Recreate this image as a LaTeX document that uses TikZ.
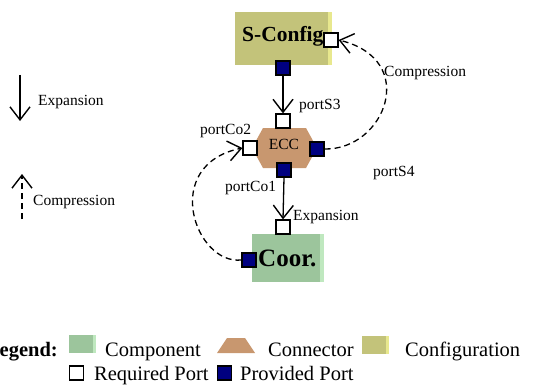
\documentclass[tikz,border=0pt]{standalone}
\usepackage{fontspec}
\setmainfont{Liberation Serif}
\usetikzlibrary{arrows.meta}
\definecolor{cfg}{HTML}{C3C37A}
\definecolor{cfglight}{HTML}{E8E88E}
\definecolor{comp}{HTML}{9CC59C}
\definecolor{complight}{HTML}{BFE8BF}
\definecolor{conn}{HTML}{C8976F}
\definecolor{prov}{HTML}{000080}
\begin{document}
\begin{tikzpicture}[x=1pt,y=-1pt,
  req/.style={draw=black, fill=white, line width=1.2pt, minimum size=14pt, inner sep=0pt},
  provp/.style={draw=black, fill=prov, line width=1.2pt, minimum size=14pt, inner sep=0pt},
  lbl/.style={inner sep=0pt, anchor=base west, font=\fontsize{15.5}{18}\selectfont},
  leg/.style={inner sep=0pt, anchor=base west, font=\fontsize{20.5}{24}\selectfont},
  expa/.style={-{Straight Barb[length=13pt,width=20pt,line width=1.4pt]}, line width=1.3pt},
  cmpa/.style={expa, dash pattern=on 6pt off 4pt},
  boxn/.style={inner sep=0pt, draw=none},
]
\useasboundingbox (0,0) rectangle (540,385);

% S-Config box
\node[boxn, fill=cfg, minimum width=97pt, minimum height=53pt] (cfg) at (283.5,38.5) {};
\fill[cfglight] ([xshift=-4pt]cfg.north east) rectangle (cfg.south east);
\node[inner sep=0pt, anchor=base west, font=\fontsize{21.5}{24}\selectfont\bfseries] (cfgt) at (242,42) {S-Config};

% Coor box
\node[boxn, fill=comp, minimum width=72pt, minimum height=48pt] (coor) at (288,258) {};
\fill[complight] ([xshift=-4pt]coor.north east) rectangle (coor.south east);
\node[inner sep=0pt, anchor=base west, font=\fontsize{25}{28}\selectfont\bfseries] (coort) at (258,266) {Coor.};

% ECC hexagon
\fill[conn] (252,148) -- (263,128) -- (306,128) -- (317,148) -- (306,168) -- (263,168) -- cycle;
\node[inner sep=0pt, anchor=base, font=\fontsize{15.5}{18}\selectfont] (ecct) at (284,149) {ECC};

% ports
\node[req] (cfgR) at (331,40) {};
\node[provp] (cfgP) at (283,68) {};
\node[req] (s3) at (283,121) {};
\node[req] (co2) at (250,148) {};
\node[provp] (s4) at (317,149) {};
\node[provp] (co1) at (284,170) {};
\node[req] (coorR) at (283,227) {};
\node[provp] (coorP) at (249,260) {};

% labels
\node[lbl] (l1) at (299,110) {portS3};
\node[lbl] (l2) at (200,134) {portCo2};
\node[lbl] (l3) at (225,191) {portCo1};
\node[lbl] (l4) at (373,176) {portS4};
\node[lbl] (l5) at (293,220) {Expansion};
\node[lbl] (l6) at (384,77) {Compression};

% connectors
\draw[expa] (cfgP.south) -- (s3.north);
\draw[expa] (co1.south) -- (coorR.north);
\draw[cmpa] (s4.east) .. controls (385,150) and (420,60) .. (cfgR.east);
\draw[cmpa] (coorP.west) .. controls (195,265) and (160,165) .. (co2.west);

% left legend
\coordinate (a1) at (20,75);
\coordinate (a2) at (20,121);
\draw[expa] (a1) -- (a2);
\node[lbl] (le) at (38,106) {Expansion};
\coordinate (b1) at (22,219);
\coordinate (b2) at (22,174);
\draw[cmpa] (b1) -- (b2);
\node[lbl] (lc) at (33,205) {Compression};

% bottom legend
\node[inner sep=0pt, anchor=base east, font=\fontsize{20.5}{24}\selectfont\bfseries] (legt) at (58,356) {Legend:};
\node[boxn, fill=comp, minimum width=27pt, minimum height=18pt] (sw1) at (82.5,344) {};
\fill[complight] ([xshift=-3pt]sw1.north east) rectangle (sw1.south east);
\node[leg] (t1) at (105,356) {Component};
\fill[conn] (217,353) -- (227,338) -- (245,338) -- (255,353) -- cycle;
\node[leg] (t2) at (268,356) {Connector};
\node[boxn, fill=cfg, minimum width=27pt, minimum height=18pt] (sw3) at (375.5,345) {};
\fill[cfglight] ([xshift=-3pt]sw3.north east) rectangle (sw3.south east);
\node[leg] (t3) at (405,356) {Configuration};
\node[req] (sw4) at (76.5,373) {};
\node[leg] (t4) at (94,380) {Required Port};
\node[provp] (sw5) at (224.5,373) {};
\node[leg] (t5) at (240,380) {Provided Port};
\end{tikzpicture}
\end{document}
